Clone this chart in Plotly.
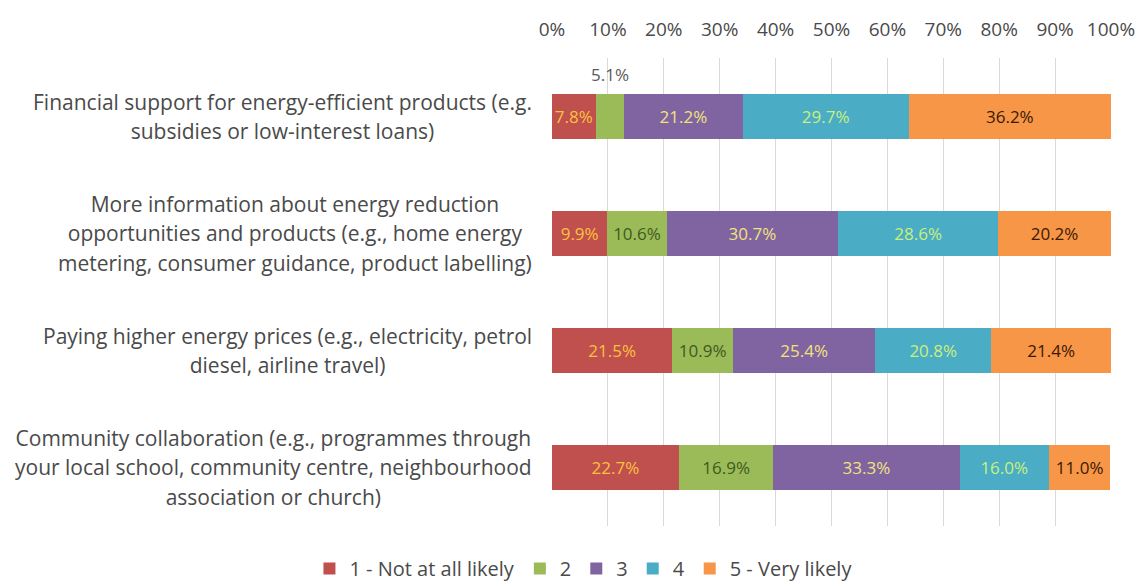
import plotly.graph_objects as go

categories = [
    "Financial support for energy-efficient products (e.g.|subsidies or low-interest loans)",
    "More information about energy reduction|opportunities and products (e.g., home energy|metering, consumer guidance, product labelling)",
    "Paying higher energy prices (e.g., electricity, petrol|diesel, airline travel)",
    "Community collaboration (e.g., programmes through|your local school, community centre, neighbourhood|association or church)",
]
series_names = ["1 - Not at all likely", "2", "3", "4", "5 - Very likely"]
s1 = [7.8, 9.9, 21.5, 22.7]
s2 = [5.1, 10.6, 10.9, 16.9]
s3 = [21.2, 30.7, 25.4, 33.3]
s4 = [29.7, 28.6, 20.8, 16.0]
s5 = [36.2, 20.2, 21.4, 11.0]
series_values = [s1, s2, s3, s4, s5]
tick_vals = [0, 10, 20, 30, 40, 50, 60, 70, 80, 90, 100]
tick_text = [f"{v}%" for v in tick_vals]

colors = ["#C0504D", "#9BBB59", "#8064A2", "#4BACC6", "#F79646"]
text_colors = ["#F9C23C", "#3F5A1E", "#F2E27A", "#C8F07A", "#3A1A05"]
FONT = "Open Sans"

cat_ids = list(range(len(categories)))

fig = go.Figure()
for name, vals, col, tcol in zip(series_names, series_values, colors, text_colors):
    texts = [f"{v:.1f}%" if v >= 7 else "" for v in vals]
    fig.add_trace(go.Bar(
        y=cat_ids, x=vals, name=name, orientation="h",
        marker=dict(color=col, line=dict(width=0)),
        text=texts, textposition="inside", insidetextanchor="middle",
        constraintext="none", textangle=0,
        insidetextfont=dict(color=tcol, size=17, family=FONT),
        width=0.39, hoverinfo="x+name",
    ))

# small segment label placed above the bar
for i in cat_ids:
    v = s2[i]
    if v < 7:
        fig.add_annotation(x=s1[i] + v / 2, y=i, text=f"{v:.1f}%", showarrow=False,
                           yshift=42, font=dict(size=17, color="#595959", family=FONT))

# category labels: centred lines, block right-aligned to the plot
for i, cat in enumerate(categories):
    lines = cat.split("|")
    txt = "<br>".join(f"<span style='font-size:21px'>{ln}</span>" for ln in lines)
    fig.add_annotation(
        xref="paper", x=-0.033, y=i, yref="y", text=txt, showarrow=False,
        xanchor="right", yanchor="middle", align="center",
        font=dict(size=22.5, color="#4A4A4A", family=FONT),
    )

fig.update_layout(
    barmode="stack",
    width=1135, height=580,
    margin=dict(l=544, r=32, t=50, b=62, autoexpand=False),
    paper_bgcolor="white", plot_bgcolor="white",
    font=dict(family=FONT, color="#4A4A4A"),
    showlegend=True,
    legend=dict(orientation="h", xref="container", yref="container",
                x=0.507, xanchor="center", y=-0.008, yanchor="bottom",
                font=dict(size=20, color="#4A4A4A", family=FONT),
                traceorder="normal", itemwidth=30),
    xaxis=dict(range=[0, 100], side="top", tickvals=tick_vals, ticktext=tick_text,
               showgrid=True, gridcolor="#D9D9D9", gridwidth=1, zeroline=False,
               showline=False, ticks="", ticklabelstandoff=17, automargin=False,
               tickfont=dict(size=19, color="#4A4A4A", family=FONT),
               fixedrange=True),
    yaxis=dict(tickvals=cat_ids, showticklabels=False, range=[3.5, -0.5], automargin=False,
               showgrid=False, zeroline=False, showline=False, ticks=""),
)

fig.write_html("out.html")
